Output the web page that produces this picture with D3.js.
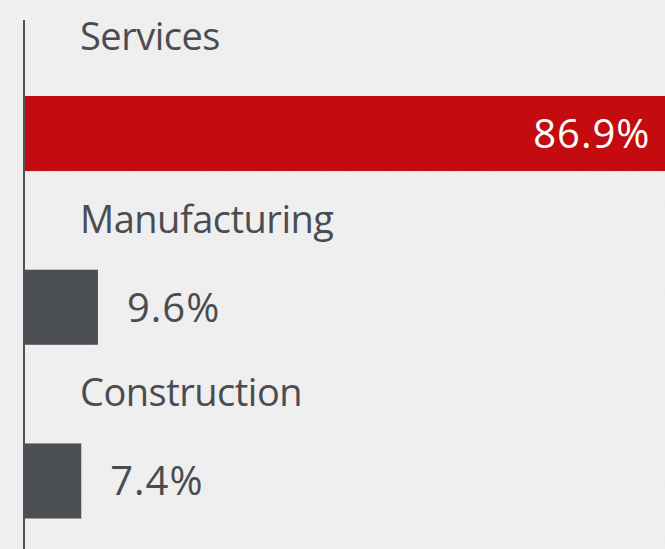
<!DOCTYPE html>
<html>
<head>
<meta charset="utf-8">
<script src="https://cdn.jsdelivr.net/npm/d3@7"></script>
<style>
  html, body { margin: 0; padding: 0; background: #efefef; overflow: hidden; }
  svg { display: block; }
</style>
</head>
<body>
<script>
let width = 665, height = 549;

// data
const categories = ["Services", "Manufacturing", "Construction"];
const shares = [86.9, 9.6, 7.4];
const barColors = ["#c40c10", "#4b4e53", "#4b4e53"];

let x = d3.scaleLinear().domain([0, 100]).range([25, 25 + 760]);
let y = d3.scaleBand().domain(categories).range([96, 518.5]).paddingInner(0.568).paddingOuter(0);

const svg = d3.select("body")
    .append("svg")
    .attr("width", width)
    .attr("height", height);

// paper-ish texture
const defs = svg.append("defs");
const f = defs.append("filter").attr("id", "grain");
f.append("feTurbulence").attr("type", "fractalNoise").attr("baseFrequency", 0.9).attr("numOctaves", 2).attr("seed", 3);
f.append("feColorMatrix").attr("type", "matrix")
    .attr("values", "0 0 0 0 1  0 0 0 0 1  0 0 0 0 1  0 0 0 0.35 0");

svg.append("rect").attr("width", width).attr("height", height).attr("fill", "#ededed");
svg.append("rect").attr("width", width).attr("height", height).attr("filter", "url(#grain)").attr("opacity", 0.5);

const rows = categories.map((c, i) => ({ cat: c, val: shares[i], color: barColors[i] }));

svg.selectAll(".bar")
    .data(rows)
    .enter()
    .append("rect")
    .attr("class", "bar")
    .attr("x", x(0))
    .attr("y", d => y(d.cat))
    .attr("width", d => x(d.val) - x(0))
    .attr("height", y.bandwidth())
    .attr("fill", d => d.color);

// category names above each bar (the top one sits a bit higher)
svg.selectAll(".cat")
    .data(rows)
    .enter()
    .append("text")
    .attr("class", "cat")
    .attr("x", 80)
    .attr("y", (d, i) => y(d.cat) - (i === 0 ? 46 : 37))
    .style("font-family", "'Open Sans', sans-serif")
    .style("font-size", "38px")
    .style("letter-spacing", "-0.5px")
    .style("fill", "#4a4c51")
    .text(d => d.cat);

// value labels: inside (white) for the long bar, outside for short ones
svg.selectAll(".val")
    .data(rows)
    .enter()
    .append("text")
    .attr("class", "val")
    .attr("x", d => d.val > 50 ? x(d.val) - 35 : x(d.val) + 29)
    .attr("y", d => y(d.cat) + y.bandwidth() / 2)
    .attr("dy", "0.36em")
    .style("text-anchor", d => d.val > 50 ? "end" : "start")
    .style("font-family", "'Open Sans', sans-serif")
    .style("font-size", "40px")
    .style("letter-spacing", "1px")
    .style("fill", d => d.val > 50 ? "#ffffff" : "#4a4c51")
    .text(d => d.val.toFixed(1) + "%");

// vertical baseline
svg.append("line")
    .attr("x1", 24).attr("x2", 24)
    .attr("y1", 20).attr("y2", height)
    .attr("stroke", "#4f5256")
    .attr("stroke-width", 2);
</script>
</body>
</html>
